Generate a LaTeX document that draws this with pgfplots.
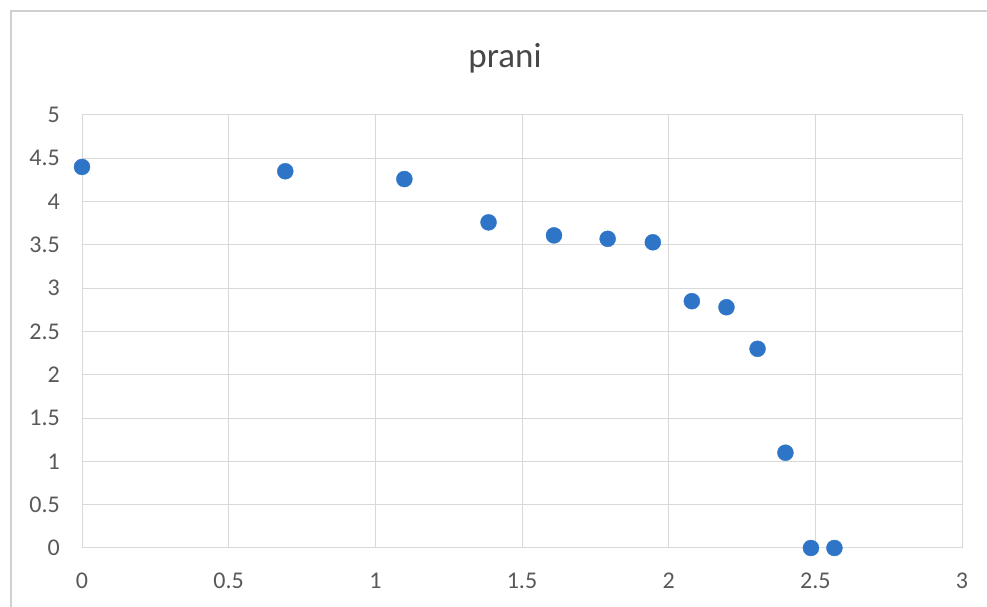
\documentclass[border=0pt]{standalone}
\usepackage{pgfplots}
\pgfplotsset{compat=1.18}
\usepackage{fontspec}
\setmainfont{Carlito}

\definecolor{dotblue}{RGB}{46,117,200}
\definecolor{gridgray}{RGB}{217,217,217}
\definecolor{labelgray}{RGB}{89,89,89}
\definecolor{framegray}{RGB}{208,208,208}

\begin{document}
\begin{tikzpicture}[x=1bp,y=1bp]
  \useasboundingbox (0,0) rectangle (987,607);
  % chart area frame (cut off at the bottom and right)
  \draw[framegray, line width=2.5bp] (11,-5) -- (11,596) -- (995,596);

  \node[anchor=base, font=\fontsize{35bp}{40bp}\selectfont, text=labelgray!80!black]
    at (505,539) {prani};

  \begin{axis}[
      at={(82bp,59bp)}, anchor=south west,
      scale only axis,
      width=880bp, height=433bp,
      xmin=0, xmax=3, ymin=0, ymax=5,
      xtick={0,0.5,...,3}, ytick={0,0.5,...,5},
      grid=major,
      grid style={gridgray, line width=1bp},
      axis line style={gridgray, line width=1bp},
      tick style={draw=none},
      ticklabel style={font=\fontsize{24bp}{28bp}\selectfont, text=labelgray, inner sep=0pt},
      xticklabel style={anchor=north, yshift=-25bp},
      yticklabel style={anchor=east, xshift=-22bp},
      /pgf/number format/assume math mode=true,
      /pgf/number format/fixed,
    ]
    \addplot[only marks, mark=*, mark size=8bp,
             mark options={fill=dotblue, draw=dotblue}] coordinates {
      (0.000, 4.40)
      (0.693, 4.35)
      (1.099, 4.26)
      (1.386, 3.76)
      (1.609, 3.61)
      (1.792, 3.57)
      (1.946, 3.53)
      (2.079, 2.85)
      (2.197, 2.78)
      (2.303, 2.30)
      (2.398, 1.10)
      (2.485, 0.00)
      (2.565, 0.00)
    };
  \end{axis}
\end{tikzpicture}
\end{document}
